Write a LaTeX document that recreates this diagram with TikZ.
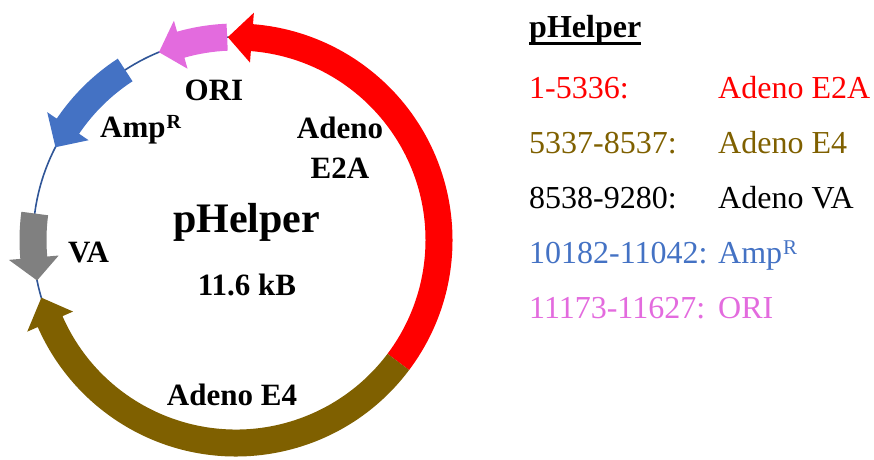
\documentclass[tikz,border=0pt]{standalone}
\usepackage{fontspec}
\setmainfont{Liberation Serif}

\definecolor{e2acol}{HTML}{FF0000}
\definecolor{e4col}{HTML}{7F6000}
\definecolor{ampcol}{HTML}{4472C4}
\definecolor{oricol}{HTML}{E36BDE}
\definecolor{vacol}{HTML}{808080}
\definecolor{backbone}{HTML}{2F5597}

% ring geometry
\def\Rm{203pt}    % backbone radius
\def\Ro{216.5pt}  % outer edge of a feature
\def\Ri{189.5pt}  % inner edge of a feature
\def\Rho{228pt}   % outer corner of an arrow head
\def\Rhi{178pt}   % inner corner of an arrow head

% feature arrow: colour, tail angle, head base angle, tip angle
\newcommand{\featarrow}[4]{%
  \fill[#1] (#2:\Ro) arc[start angle=#2, end angle=#3, radius=\Ro]
    -- (#3:\Rho) -- (#4:\Rm) -- (#3:\Rhi) -- (#3:\Ri)
    arc[start angle=#3, end angle=#2, radius=\Ri] -- cycle;}

% superscript R: size, raise
\newcommand{\supR}[2]{\hspace{1pt}\raisebox{#2}{\fontsize{#1}{#1}\selectfont R}}

\tikzset{
  lbl/.style={font=\fontsize{31}{31}\selectfont\bfseries, inner sep=0pt, anchor=base},
  keytxt/.style={font=\fontsize{32}{32}\selectfont, inner sep=0pt, anchor=base west},
}

\begin{document}
\begin{tikzpicture}[x=1pt, y=1pt]
\useasboundingbox (0,0) rectangle (874,-459);

\begin{scope}[shift={(236,-240)}]
  % backbone
  \draw[backbone, line width=1.6pt] (0,0) circle[radius=\Rm];
  % features
  \featarrow{e2acol}{-36.9}{85.5}{92.3}
  \featarrow{e4col}{-36.9}{-156.3}{-163.5}
  \featarrow{vacol}{172.5}{185}{191.5}
  \featarrow{ampcol}{123.1}{145.9}{152.8}
  \featarrow{oricol}{92.5}{105.8}{112.3}
\end{scope}

% labels inside the ring
\node[lbl] (lori) at (214,-100) {ORI};
\node[lbl, anchor=base west] (lamp) at (100,-137) {Amp\supR{20}{9pt}};
\node[lbl] (le2a1) at (340,-138) {Adeno};
\node[lbl] (le2a2) at (340,-178) {E2A};
\node[lbl, font=\fontsize{42}{42}\selectfont\bfseries] (lname) at (246.5,-232) {pHelper};
\node[lbl] (lsize) at (247,-295) {11.6 kB};
\node[lbl, anchor=base west] (lva) at (68,-262) {VA};
\node[lbl] (le4) at (232,-405) {Adeno E4};

% key
\node[keytxt, font=\fontsize{32}{32}\selectfont\bfseries] (ktitle) at (529,-37) {pHelper};
\draw[line width=3pt] ([yshift=-6.5pt]ktitle.base west) -- ([yshift=-6.5pt]ktitle.base east);

\node[keytxt, e2acol] (k1a) at (529,-98) {1-5336:};
\node[keytxt, e2acol] (k1b) at (718,-98) {Adeno E2A};
\node[keytxt, e4col] (k2a) at (529,-153) {5337-8537:};
\node[keytxt, e4col] (k2b) at (718,-153) {Adeno E4};
\node[keytxt] (k3a) at (529,-208) {8538-9280:};
\node[keytxt] (k3b) at (718,-208) {Adeno VA};
\node[keytxt, ampcol] (k4a) at (529,-263) {10182-11042:};
\node[keytxt, ampcol] (k4b) at (718,-263) {Amp\supR{21}{9pt}};
\node[keytxt, oricol] (k5a) at (529,-318) {11173-11627:};
\node[keytxt, oricol] (k5b) at (718,-318) {ORI};
\end{tikzpicture}
\end{document}
